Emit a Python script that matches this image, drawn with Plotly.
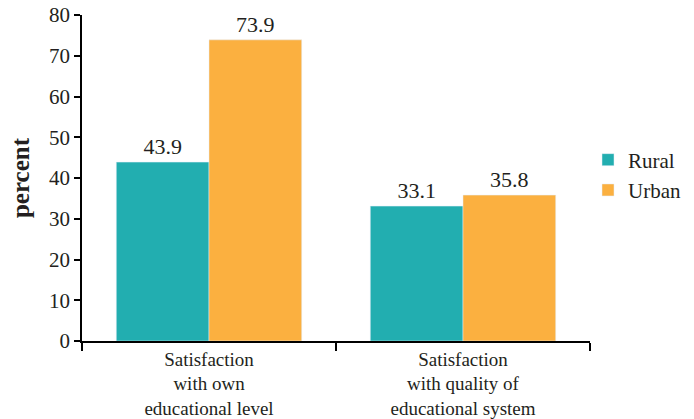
import plotly.graph_objects as go

categories = ["Satisfaction<br>with own<br>educational level",
              "Satisfaction<br>with quality of<br>educational system"]
rural = [43.9, 33.1]
urban = [73.9, 35.8]
y_ticks = [0, 10, 20, 30, 40, 50, 60, 70, 80]

FONT = "Liberation Serif"
TXT = "#231F20"

fig = go.Figure()
fig.add_trace(go.Bar(name="Rural", x=categories, y=rural, marker_color="#22AEB0",
                     text=[f"{v:.1f}" for v in rural], textposition="outside",
                     textfont=dict(family=FONT, size=22, color=TXT), cliponaxis=False))
fig.add_trace(go.Bar(name="Urban", x=categories, y=urban, marker_color="#FBB040",
                     text=[f"{v:.1f}" for v in urban], textposition="outside",
                     textfont=dict(family=FONT, size=22, color=TXT), cliponaxis=False))

fig.update_layout(
    width=694, height=419,
    margin=dict(l=82, r=104, t=15, b=78, autoexpand=False),
    paper_bgcolor="white", plot_bgcolor="white",
    barmode="group", bargap=0.27, bargroupgap=0,
    font=dict(family=FONT, size=20, color=TXT),
    legend=dict(xref="container", x=588/694, xanchor="left",
                yref="container", y=1 - 175/419, yanchor="middle",
                font=dict(family=FONT, size=21, color=TXT), itemwidth=30,
                tracegroupgap=2),
    xaxis=dict(showline=True, linecolor="black", linewidth=1.5, ticks="outside",
               tickson="boundaries", ticklen=8, tickcolor="black", tickwidth=1.5,
               automargin=False,
               tickfont=dict(family=FONT, size=19, color=TXT)),
    yaxis=dict(range=[0, 80], tickvals=y_ticks, showline=True, linecolor="black",
               linewidth=1.5, ticks="outside", ticklen=6, tickcolor="black", tickwidth=1.5,
               showgrid=False, zeroline=False, automargin=False,
               tickfont=dict(family=FONT, size=21, color=TXT),
               title=dict(text="<b>percent</b>", font=dict(family=FONT, size=25, color=TXT),
                          standoff=12)),
)
fig.write_html("out.html")
